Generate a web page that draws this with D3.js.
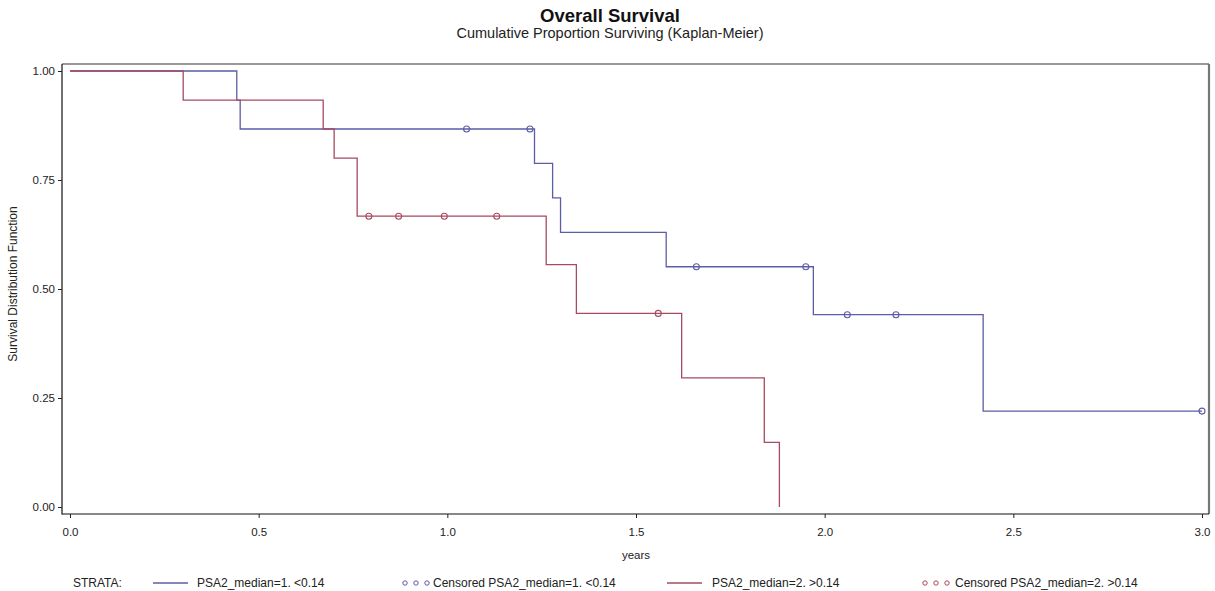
<!DOCTYPE html>
<html>
<head>
<meta charset="utf-8">
<script src="https://cdn.jsdelivr.net/npm/d3@7"></script>
<style>
  html, body { margin: 0; padding: 0; background: #fff; }
  svg { display: block; font-family: Arial, "Liberation Sans", sans-serif; }
</style>
</head>
<body>
<svg id="chart" width="1215" height="591"></svg>
<script>
// Kaplan-Meier estimates per stratum: event times (years) and survival after each step
const lowTimes = [0, 0.442, 0.451, 1.231, 1.279, 1.300, 1.580, 1.970, 2.420, 3.000];
const lowSurv  = [1, 0.933, 0.867, 0.788, 0.709, 0.630, 0.551, 0.441, 0.220, 0.220];
const lowCensored = [1.051, 1.219, 1.660, 1.950, 2.060, 2.189, 3.000];

const highTimes = [0, 0.300, 0.671, 0.700, 0.761, 1.262, 1.342, 1.621, 1.840, 1.880];
const highSurv  = [1, 0.933, 0.867, 0.800, 0.667, 0.556, 0.444, 0.296, 0.148, 0.000];
const highCensored = [0.792, 0.871, 0.992, 1.131, 1.559];

const xTicks = [0, 0.5, 1.0, 1.5, 2.0, 2.5, 3.0];
const yTicks = [0, 0.25, 0.5, 0.75, 1.0];

const strataLabels = ["PSA2_median=1. <0.14", "PSA2_median=2. >0.14"];
const strataColors = ["#5c5ca8", "#a84a60"];

const svg = d3.select("#chart");
const frame = { left: 62, right: 1209, top: 64, bottom: 514 };

const x = d3.scaleLinear().domain([0, 3]).range([70, 1202]);
const y = d3.scaleLinear().domain([0, 1]).range([507, 71]);

// Titles
svg.append("text").attr("x", 610).attr("y", 21.5).attr("text-anchor", "middle")
  .attr("font-size", 18.5).attr("font-weight", "bold").attr("fill", "#111")
  .text("Overall Survival");
svg.append("text").attr("x", 610).attr("y", 38).attr("text-anchor", "middle")
  .attr("font-size", 14.5).attr("fill", "#222")
  .text("Cumulative Proportion Surviving (Kaplan-Meier)");

// Plot frame: top/right in gray, left/bottom in black
svg.append("line").attr("x1", frame.left).attr("x2", frame.right)
  .attr("y1", frame.top).attr("y2", frame.top)
  .attr("stroke", "#777").attr("stroke-width", 1.6);
svg.append("line").attr("x1", frame.right).attr("x2", frame.right)
  .attr("y1", frame.top).attr("y2", frame.bottom)
  .attr("stroke", "#777").attr("stroke-width", 2.2);
svg.append("line").attr("x1", frame.left).attr("x2", frame.left)
  .attr("y1", frame.top).attr("y2", frame.bottom + 0.5)
  .attr("stroke", "#111").attr("stroke-width", 1.2);
svg.append("line").attr("x1", frame.left).attr("x2", frame.right)
  .attr("y1", frame.bottom).attr("y2", frame.bottom)
  .attr("stroke", "#111").attr("stroke-width", 1.2);

// Axes
const yAxis = svg.append("g").attr("transform", `translate(${frame.left},0)`)
  .call(d3.axisLeft(y).tickValues(yTicks).tickFormat(d3.format(".2f")).tickSize(4).tickPadding(3));
const xAxis = svg.append("g").attr("transform", `translate(0,${frame.bottom})`)
  .call(d3.axisBottom(x).tickValues(xTicks).tickFormat(d3.format(".1f")).tickSize(4).tickPadding(10));
[yAxis, xAxis].forEach(g => {
  g.select(".domain").remove();
  g.selectAll(".tick line").attr("stroke", "#222");
  g.selectAll(".tick text").attr("font-size", 11.5).attr("fill", "#222")
    .attr("font-family", "Arial, 'Liberation Sans', sans-serif");
});

// Axis labels
svg.append("text").attr("transform", "translate(17,284) rotate(-90)")
  .attr("text-anchor", "middle").attr("font-size", 12).attr("fill", "#222")
  .text("Survival Distribution Function");
svg.append("text").attr("x", 636).attr("y", 559).attr("text-anchor", "middle")
  .attr("font-size", 11.5).attr("fill", "#222").text("years");

// Survival curves
const step = d3.line().x(d => x(d[0])).y(d => y(d[1])).curve(d3.curveStepAfter);
const survAt = (times, surv, t) => surv[Math.max(0, d3.bisectRight(times, t) - 1)];

const strata = [
  { times: lowTimes, surv: lowSurv, cens: lowCensored, color: strataColors[0] },
  { times: highTimes, surv: highSurv, cens: highCensored, color: strataColors[1] }
];

strata.forEach(s => {
  svg.append("path").datum(d3.zip(s.times, s.surv))
    .attr("d", step).attr("fill", "none")
    .attr("stroke", s.color).attr("stroke-width", 1.3);
  svg.append("g").selectAll("circle").data(s.cens).join("circle")
    .attr("cx", d => x(d)).attr("cy", d => y(survAt(s.times, s.surv, d)))
    .attr("r", 3).attr("fill", "none").attr("stroke", s.color).attr("stroke-width", 1.1);
});

// Legend
const ly = 583;
const legend = svg.append("g").attr("font-size", 12).attr("fill", "#222");
legend.append("text").attr("x", 73).attr("y", ly + 4).text("STRATA:");

const legendItems = [
  { kind: "line", x0: 153, x1: 188, tx: 197, color: strataColors[0], label: strataLabels[0] },
  { kind: "dots", dots: [405, 416, 427], tx: 433, color: strataColors[0], label: "Censored " + strataLabels[0] },
  { kind: "line", x0: 667, x1: 702, tx: 712, color: strataColors[1], label: strataLabels[1] },
  { kind: "dots", dots: [925, 936, 947], tx: 955, color: strataColors[1], label: "Censored " + strataLabels[1] }
];
legendItems.forEach(it => {
  if (it.kind === "line") {
    legend.append("line").attr("x1", it.x0).attr("x2", it.x1).attr("y1", ly).attr("y2", ly)
      .attr("stroke", it.color).attr("stroke-width", 1.3);
  } else {
    legend.selectAll(null).data(it.dots).join("circle")
      .attr("cx", d => d).attr("cy", ly).attr("r", 2.2)
      .attr("fill", "none").attr("stroke", it.color).attr("stroke-width", 1);
  }
  legend.append("text").attr("x", it.tx).attr("y", ly + 4).text(it.label);
});
</script>
</body>
</html>
